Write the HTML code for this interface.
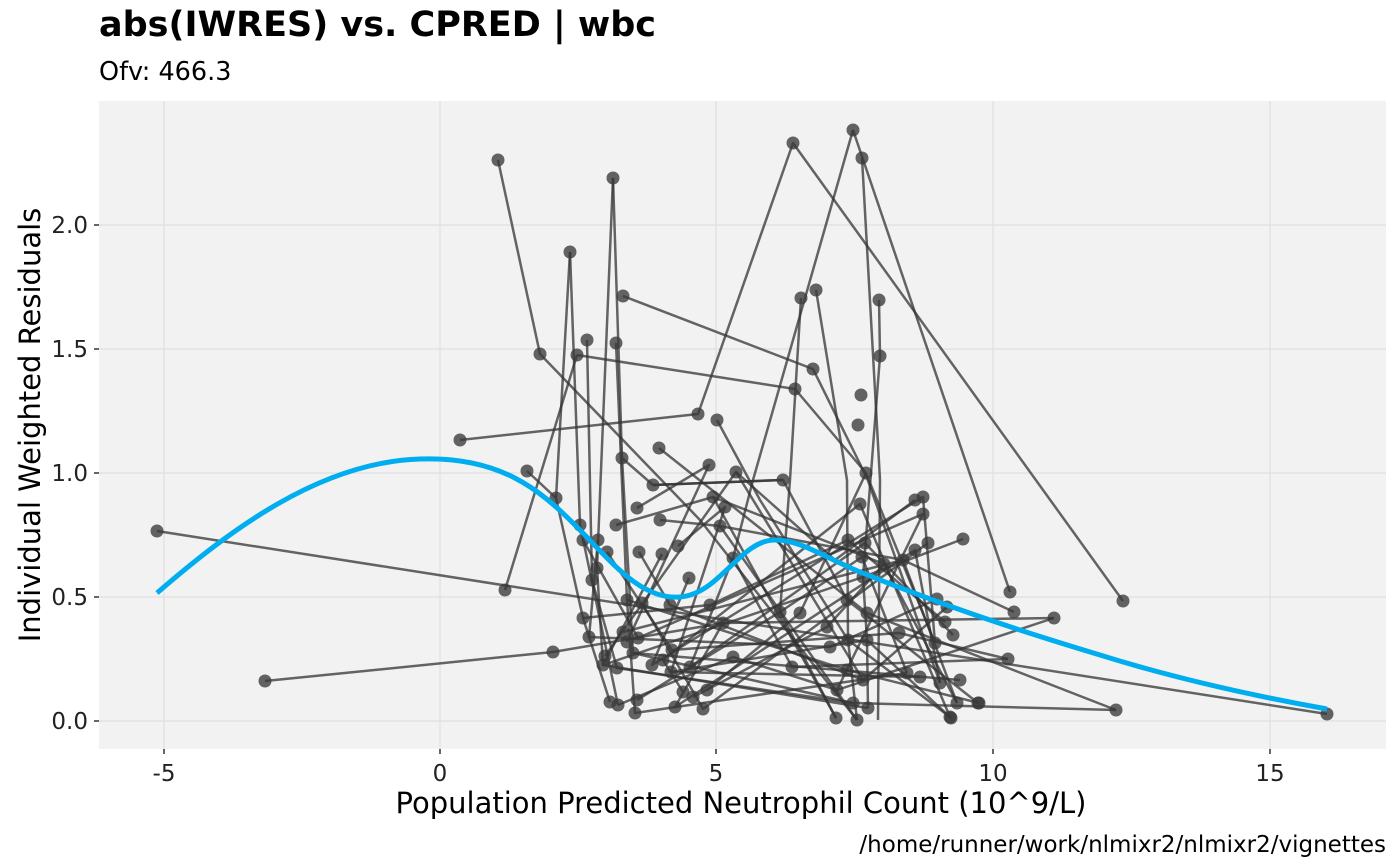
<!DOCTYPE html>
<html><head><meta charset="utf-8"><style>
body{margin:0;background:#fff;}
svg{display:block;font-family:"DejaVu Sans","Liberation Sans",sans-serif;}
</style></head><body>
<svg width="1400" height="865" viewBox="0 0 1400 865" xmlns="http://www.w3.org/2000/svg">
<text x="99" y="36" font-size="35" font-weight="bold" fill="#000">abs(IWRES) vs. CPRED | wbc</text>
<text x="99" y="80" font-size="25.5" fill="#000">Ofv: 466.3</text>
<rect x="99" y="101" width="1287" height="648" fill="#F2F2F2"/>
<g stroke="#E0E0E0" stroke-width="1.2">
<line x1="164" y1="101" x2="164" y2="749"/><line x1="440" y1="101" x2="440" y2="749"/><line x1="716" y1="101" x2="716" y2="749"/><line x1="993" y1="101" x2="993" y2="749"/><line x1="1270" y1="101" x2="1270" y2="749"/>
<line x1="99" y1="721" x2="1386" y2="721"/><line x1="99" y1="597" x2="1386" y2="597"/><line x1="99" y1="473" x2="1386" y2="473"/><line x1="99" y1="349" x2="1386" y2="349"/><line x1="99" y1="225" x2="1386" y2="225"/>
</g>
<g stroke="#333" stroke-width="1.5">
<line x1="94" y1="721" x2="99" y2="721"/><line x1="94" y1="597" x2="99" y2="597"/><line x1="94" y1="473" x2="99" y2="473"/><line x1="94" y1="349" x2="99" y2="349"/><line x1="94" y1="225" x2="99" y2="225"/>
<line x1="164" y1="749" x2="164" y2="754"/><line x1="440" y1="749" x2="440" y2="754"/><line x1="716" y1="749" x2="716" y2="754"/><line x1="993" y1="749" x2="993" y2="754"/><line x1="1270" y1="749" x2="1270" y2="754"/>
</g>
<g fill="none" stroke="#333" stroke-opacity="0.75" stroke-width="2.5" stroke-linejoin="round">
<polyline points="498,160 540,354 700,520 857,720"/>
<polyline points="570,252 556,498 583,618 610,702"/>
<polyline points="570,252 580,525 618,705"/>
<polyline points="613,178 597,568 603,665 868,708"/>
<polyline points="613,178 622,458 633,653 960,680"/>
<polyline points="587,340 592,580 617,668 853,703"/>
<polyline points="616,343 627,600 635,713 907,673"/>
<polyline points="577,355 795,389 866,473 935,643"/>
<polyline points="505,590 577,355"/>
<polyline points="460,440 698,414 793,143 1123,601"/>
<polyline points="853,130 753,480 733,558 792,667 1008,659"/>
<polyline points="853,130 1010,592"/>
<polyline points="862,158 880,480 878,720"/>
<polyline points="801,298 790,480 780,612 836,718"/>
<polyline points="816,290 847,480 848,640 857,720"/>
<polyline points="879,300 880,356 863,577 867,640 868,708"/>
<polyline points="623,296 813,369 867,478 940,683"/>
<polyline points="717,420 760,500 848,640 950,717"/>
<polyline points="157,531 1327,714"/>
<polyline points="265,681 553,652 723,623 1054,618"/>
<polyline points="527,471 556,498"/>
<polyline points="659,448 867,613 1116,710"/>
<polyline points="616,525 713,497 884,564 957,703"/>
<polyline points="637,508 709,465 627,642"/>
<polyline points="653,485 783,480 847,600 978,703"/>
<polyline points="660,520 720,526 903,560 1014,612"/>
<polyline points="639,552 670,605 863,680 947,607"/>
<polyline points="662,554 603,665 863,577 963,539"/>
<polyline points="678,546 725,507 671,672 920,677"/>
<polyline points="736,472 835,560 915,500"/>
<polyline points="583,540 638,638 923,514 837,690"/>
<polyline points="598,540 589,637 830,647 937,599"/>
<polyline points="607,552 672,650 899,633 1008,659"/>
<polyline points="689,578 652,665 923,497 935,643"/>
<polyline points="733,558 690,667 865,543 953,635"/>
<polyline points="583,618 710,605 848,540 945,622"/>
<polyline points="642,603 703,709 928,543"/>
<polyline points="723,623 675,707 915,550 940,683"/>
<polyline points="637,700 780,612 862,557 907,673"/>
<polyline points="693,697 827,627 884,564"/>
<polyline points="707,690 800,613 866,473"/>
<polyline points="683,692 663,660 860,504 950,717"/>
<polyline points="618,705 733,657 837,690 1054,618"/>
<polyline points="627,600 847,670 979,703"/>
<polyline points="633,653 853,703 1116,710"/>
<polyline points="671,672 867,640 951,718"/>
<polyline points="720,526 857,720"/>
<polyline points="713,497 836,718"/>
<polyline points="622,458 653,485 783,480"/>
<polyline points="605,656 736,472 863,680"/>
<polyline points="623,632 903,560 957,703"/>
</g>
<g fill="#3a3a3a" fill-opacity="0.78">
<circle cx="498" cy="160" r="6.5"/><circle cx="540" cy="354" r="6.5"/><circle cx="570" cy="252" r="6.5"/><circle cx="613" cy="178" r="6.5"/><circle cx="587" cy="340" r="6.5"/><circle cx="616" cy="343" r="6.5"/><circle cx="577" cy="355" r="6.5"/><circle cx="623" cy="296" r="6.5"/><circle cx="460" cy="440" r="6.5"/><circle cx="698" cy="414" r="6.5"/><circle cx="717" cy="420" r="6.5"/><circle cx="793" cy="143" r="6.5"/><circle cx="853" cy="130" r="6.5"/><circle cx="862" cy="158" r="6.5"/><circle cx="801" cy="298" r="6.5"/><circle cx="816" cy="290" r="6.5"/><circle cx="879" cy="300" r="6.5"/><circle cx="880" cy="356" r="6.5"/><circle cx="795" cy="389" r="6.5"/><circle cx="813" cy="369" r="6.5"/><circle cx="861" cy="395" r="6.5"/><circle cx="858" cy="425" r="6.5"/><circle cx="157" cy="531" r="6.5"/><circle cx="265" cy="681" r="6.5"/><circle cx="505" cy="590" r="6.5"/>
<circle cx="527" cy="471" r="6.5"/><circle cx="556" cy="498" r="6.5"/><circle cx="622" cy="458" r="6.5"/><circle cx="659" cy="448" r="6.5"/><circle cx="580" cy="525" r="6.5"/><circle cx="583" cy="540" r="6.5"/><circle cx="598" cy="540" r="6.5"/><circle cx="607" cy="552" r="6.5"/><circle cx="597" cy="568" r="6.5"/><circle cx="592" cy="580" r="6.5"/><circle cx="616" cy="525" r="6.5"/><circle cx="637" cy="508" r="6.5"/><circle cx="653" cy="485" r="6.5"/><circle cx="660" cy="520" r="6.5"/><circle cx="639" cy="552" r="6.5"/><circle cx="662" cy="554" r="6.5"/><circle cx="678" cy="546" r="6.5"/><circle cx="709" cy="465" r="6.5"/><circle cx="713" cy="497" r="6.5"/><circle cx="725" cy="507" r="6.5"/><circle cx="720" cy="526" r="6.5"/><circle cx="736" cy="472" r="6.5"/><circle cx="783" cy="480" r="6.5"/><circle cx="860" cy="504" r="6.5"/><circle cx="866" cy="473" r="6.5"/><circle cx="627" cy="600" r="6.5"/><circle cx="642" cy="603" r="6.5"/><circle cx="670" cy="605" r="6.5"/><circle cx="710" cy="605" r="6.5"/><circle cx="689" cy="578" r="6.5"/><circle cx="733" cy="558" r="6.5"/><circle cx="583" cy="618" r="6.5"/><circle cx="589" cy="637" r="6.5"/><circle cx="553" cy="652" r="6.5"/><circle cx="623" cy="632" r="6.5"/><circle cx="627" cy="642" r="6.5"/><circle cx="638" cy="638" r="6.5"/><circle cx="633" cy="653" r="6.5"/><circle cx="605" cy="656" r="6.5"/><circle cx="603" cy="665" r="6.5"/><circle cx="617" cy="668" r="6.5"/><circle cx="652" cy="665" r="6.5"/><circle cx="663" cy="660" r="6.5"/><circle cx="672" cy="650" r="6.5"/><circle cx="671" cy="672" r="6.5"/><circle cx="690" cy="667" r="6.5"/><circle cx="733" cy="657" r="6.5"/><circle cx="723" cy="623" r="6.5"/><circle cx="610" cy="702" r="6.5"/><circle cx="618" cy="705" r="6.5"/><circle cx="635" cy="713" r="6.5"/><circle cx="637" cy="700" r="6.5"/><circle cx="675" cy="707" r="6.5"/><circle cx="693" cy="697" r="6.5"/><circle cx="703" cy="709" r="6.5"/><circle cx="707" cy="690" r="6.5"/><circle cx="683" cy="692" r="6.5"/><circle cx="792" cy="667" r="6.5"/><circle cx="836" cy="718" r="6.5"/><circle cx="857" cy="720" r="6.5"/><circle cx="868" cy="708" r="6.5"/><circle cx="853" cy="703" r="6.5"/><circle cx="837" cy="690" r="6.5"/><circle cx="863" cy="680" r="6.5"/><circle cx="847" cy="670" r="6.5"/><circle cx="867" cy="640" r="6.5"/><circle cx="848" cy="640" r="6.5"/><circle cx="830" cy="647" r="6.5"/><circle cx="867" cy="613" r="6.5"/><circle cx="847" cy="600" r="6.5"/><circle cx="863" cy="577" r="6.5"/><circle cx="862" cy="557" r="6.5"/><circle cx="848" cy="540" r="6.5"/><circle cx="865" cy="543" r="6.5"/><circle cx="884" cy="564" r="6.5"/><circle cx="903" cy="560" r="6.5"/><circle cx="899" cy="633" r="6.5"/><circle cx="915" cy="550" r="6.5"/><circle cx="928" cy="543" r="6.5"/><circle cx="915" cy="500" r="6.5"/><circle cx="923" cy="497" r="6.5"/><circle cx="923" cy="514" r="6.5"/><circle cx="963" cy="539" r="6.5"/><circle cx="937" cy="599" r="6.5"/><circle cx="947" cy="607" r="6.5"/><circle cx="945" cy="622" r="6.5"/><circle cx="953" cy="635" r="6.5"/><circle cx="935" cy="643" r="6.5"/><circle cx="907" cy="673" r="6.5"/><circle cx="940" cy="683" r="6.5"/><circle cx="960" cy="680" r="6.5"/><circle cx="978" cy="703" r="6.5"/><circle cx="957" cy="703" r="6.5"/><circle cx="950" cy="717" r="6.5"/><circle cx="920" cy="677" r="6.5"/><circle cx="780" cy="612" r="6.5"/><circle cx="827" cy="627" r="6.5"/><circle cx="800" cy="613" r="6.5"/>
<circle cx="1010" cy="592" r="6.5"/><circle cx="1014" cy="612" r="6.5"/><circle cx="1054" cy="618" r="6.5"/><circle cx="1123" cy="601" r="6.5"/><circle cx="1008" cy="659" r="6.5"/><circle cx="979" cy="703" r="6.5"/><circle cx="951" cy="718" r="6.5"/><circle cx="1116" cy="710" r="6.5"/><circle cx="1327" cy="714" r="6.5"/>
</g>
<path d="M157,593 C230,530 320,462 420,459 C500,456 540,490 575,525 C610,560 640,600 680,597 C720,594 740,540 775,540 C800,540 820,555 860,572 C930,600 1000,625 1100,655 C1180,680 1260,697 1327,709" fill="none" stroke="#00AEEF" stroke-width="5"/>
<g font-size="23" fill="#222" text-anchor="end">
<text x="88" y="729">0.0</text><text x="88" y="605">0.5</text><text x="88" y="481">1.0</text><text x="88" y="357">1.5</text><text x="88" y="233">2.0</text>
</g>
<g font-size="23" fill="#222" text-anchor="middle">
<text x="164" y="781">-5</text><text x="440" y="781">0</text><text x="716" y="781">5</text><text x="993" y="781">10</text><text x="1270" y="781">15</text>
</g>
<text x="741" y="813" font-size="29" text-anchor="middle" fill="#000">Population Predicted Neutrophil Count (10^9/L)</text>
<text transform="translate(40,425) rotate(-90)" font-size="29" text-anchor="middle" fill="#000">Individual Weighted Residuals</text>
<text x="1386" y="852" font-size="23" text-anchor="end" fill="#000">/home/runner/work/nlmixr2/nlmixr2/vignettes</text>
</svg>
</body></html>
